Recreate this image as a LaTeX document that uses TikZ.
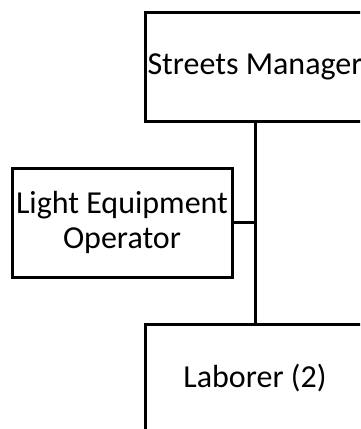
\documentclass[tikz,border=0pt]{standalone}
\usepackage{fontspec}
\setmainfont{Carlito}
\begin{document}
\begin{tikzpicture}[x=1pt,y=1pt,
  orgbox/.style={draw=black,line width=3pt,fill=white,minimum width=220pt,minimum height=109pt,inner sep=0pt,outer sep=0pt,align=center,font=\fontsize{32}{35}\selectfont},
  link/.style={draw=black,line width=3pt}]
\useasboundingbox (0,0) rectangle (360,-429);
\begin{scope}
\clip (0,0) rectangle (360,-429);
\node[orgbox] (mgr) at (255,-66.5) {Streets Manager};
\node[orgbox] (lab) at (255,-378.5) {Laborer (2)};
\node[orgbox] (leo) at (122,-222.5) {Light Equipment\\Operator};
\coordinate (j) at (mgr.south |- leo.east);
\draw[link] (mgr.south) -- (lab.north);
\draw[link] (leo.east) -- (j);
\end{scope}
\end{tikzpicture}
\end{document}
